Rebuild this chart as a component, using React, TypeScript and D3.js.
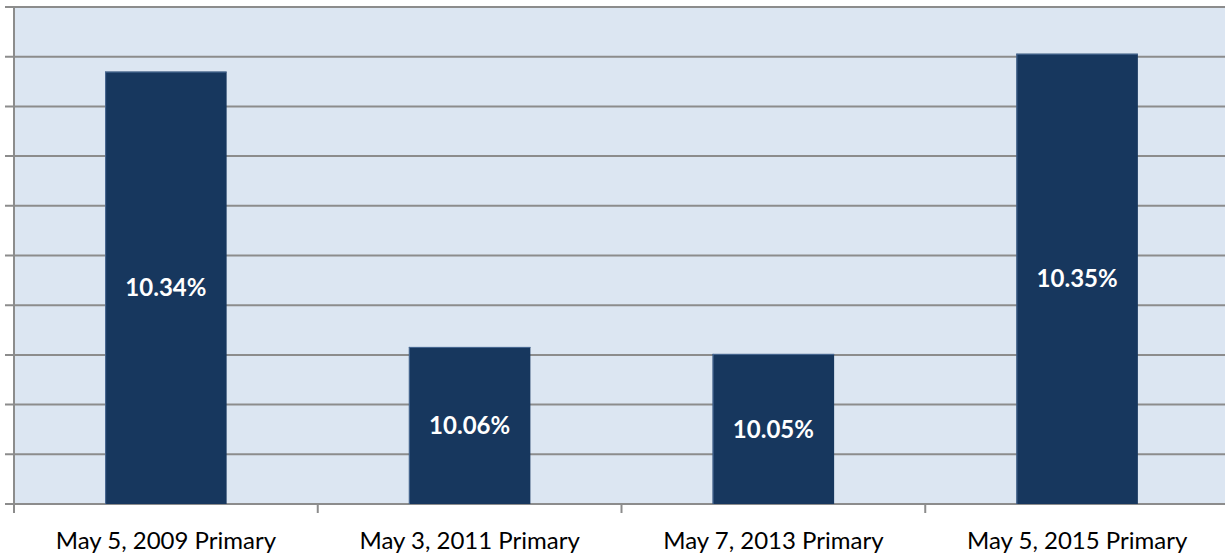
import React from "react";
import * as d3 from "d3";

const categories = ["May 5, 2009 Primary", "May 3, 2011 Primary", "May 7, 2013 Primary", "May 5, 2015 Primary"];
const turnout = [10.335, 10.058, 10.051, 10.353];
const yTicks = [9.9, 9.95, 10.0, 10.05, 10.1, 10.15, 10.2, 10.25, 10.3, 10.35, 10.4];

const W = 1225;
const H = 559;
const M = { left: 14, right: -4, top: 7, bottom: 55 };

export default function App() {
  const x = d3
    .scaleBand<string>()
    .domain(categories)
    .range([M.left, W - M.right])
    .paddingInner(0.6)
    .paddingOuter(0.3);
  const band = (W - M.right - M.left) / categories.length;
  const y = d3.scaleLinear().domain([9.9, 10.4]).range([H - M.bottom, M.top]);
  const y0 = y(9.9);
  const grid = "#8c8c8c";

  return (
    <svg
      width={W}
      height={H}
      style={{ position: "fixed", left: 0, top: 0, background: "#fff" }}
    >
      <rect x={M.left} y={M.top} width={W - M.left} height={y0 - M.top} fill="#DCE6F2" />
      {yTicks.map((t) => (
        <line key={t} x1={5} x2={W} y1={y(t)} y2={y(t)} stroke={grid} strokeWidth={2} />
      ))}
      <line x1={M.left} x2={M.left} y1={M.top} y2={y0} stroke={grid} strokeWidth={2} />
      {categories.map((c, i) => (
        <line
          key={"t" + c}
          x1={M.left + band * i}
          x2={M.left + band * i}
          y1={y0}
          y2={y0 + 9}
          stroke={grid}
          strokeWidth={2}
        />
      ))}
      {categories.map((c, i) => (
        <g key={c}>
          <rect
            x={x(c)}
            y={y(turnout[i])}
            width={x.bandwidth()}
            height={y0 - y(turnout[i])}
            fill="#17375E"
          />
          <line x1={x(c)! + 0.5} x2={x(c)! + 0.5} y1={y(turnout[i])} y2={y0} stroke="#4a6a94" strokeWidth={1} />
          <line x1={x(c)} x2={x(c)! + x.bandwidth()} y1={y(turnout[i]) + 0.5} y2={y(turnout[i]) + 0.5} stroke="#4a6a94" strokeWidth={1} />
          <text
            x={x(c)! + x.bandwidth() / 2}
            y={(y(turnout[i]) + y0) / 2}
            dy="0.36em"
            textAnchor="middle"
            fill="#fff"
            fontFamily="Lato, 'Open Sans', sans-serif"
            fontWeight="bold"
            fontSize={24}
          >
            {turnout[i].toFixed(2) + "%"}
          </text>
          <text
            x={x(c)! + x.bandwidth() / 2}
            y={549}
            textAnchor="middle"
            fill="#000"
            fontFamily="Lato, 'Open Sans', sans-serif"
            fontSize={24}
          >
            {c}
          </text>
        </g>
      ))}
    </svg>
  );
}
